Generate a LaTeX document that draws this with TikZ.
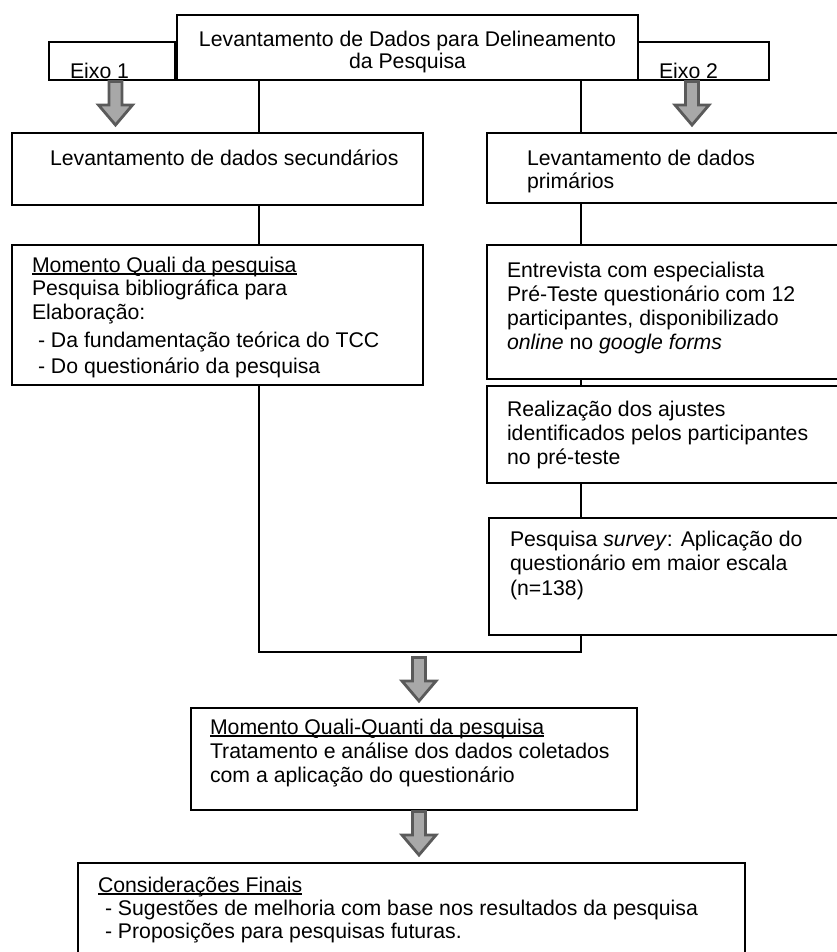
\documentclass[tikz,border=0pt]{standalone}
\usepackage{fontspec}
\setmainfont{Liberation Sans}
\definecolor{arrowedge}{HTML}{5A5A5A}
\definecolor{arrowfill}{HTML}{A8A8A8}
\newcommand\myul[1]{\setbox0\hbox{#1}\rlap{\rule[-2.6pt]{\wd0}{1.3pt}}\box0}
\begin{document}
\begin{tikzpicture}[x=1pt,y=-1pt,
 box/.style={draw=black,line width=1.6pt,inner sep=0pt,outer sep=0pt,anchor=north west,rectangle},
 txt/.style={inner sep=0pt,outer sep=0pt,anchor=base west,font=\fontsize{21.25}{23.5}\selectfont},
 ctxt/.style={txt,anchor=base},
 conn/.style={draw=black,line width=1.6pt},
 blockarrow/.style={draw=arrowedge,fill=arrowfill,line width=2.8pt,line join=miter},
 dnarrow/.pic={\path[blockarrow] (-6.5,1.5) -- (6.5,1.5) -- (6.5,25) -- (17,25) -- (0,45) -- (-17,25) -- (-6.5,25) -- cycle;}
]
\useasboundingbox (0,0) rectangle (837,952);
\clip (0,0) rectangle (837,952);

% boxes
\node[box,minimum width=461pt,minimum height=65pt] (top) at (177,15) {};
\node[box,minimum width=126pt,minimum height=38pt] (eixoA) at (49,42) {};
\node[box,minimum width=131pt,minimum height=38pt] (eixoB) at (638,42) {};
\node[box,minimum width=411pt,minimum height=72pt] (sec) at (12,133) {};
\node[box,minimum width=400pt,minimum height=70pt] (prim) at (487,133) {};
\node[box,minimum width=411pt,minimum height=140pt] (quali) at (12,245) {};
\node[box,minimum width=400pt,minimum height=134pt] (entr) at (487,245) {};
\node[box,minimum width=400pt,minimum height=97pt] (real) at (487,386) {};
\node[box,minimum width=400pt,minimum height=117pt] (surv) at (489,518) {};
\node[box,minimum width=446pt,minimum height=102pt] (qq) at (191,708) {};
\node[box,minimum width=667pt,minimum height=130pt] (fin) at (78,863) {};

% texts
\node[ctxt] (topA) at (407.5,47) {Levantamento de Dados para Delineamento};
\node[ctxt] (topB) at (407.5,69) {da Pesquisa};
\begin{scope}
\clip (eixoA.north west) rectangle (eixoA.south east);
\node[txt] (eixoAt) at (70,79) {Eixo 1};
\end{scope}
\begin{scope}
\clip (eixoB.north west) rectangle (eixoB.south east);
\node[txt] (eixoBt) at (659,79) {Eixo 2};
\end{scope}
\node[txt] (secA) at (50,165) {Levantamento de dados secundários};
\node[txt] (primA) at (527,165) {Levantamento de dados};
\node[txt] (primB) at (527,188) {primários};

\node[txt] (qualiA) at (32,272) {\myul{Momento Quali da pesquisa}};
\node[txt] (qualiB) at (32,295.5) {Pesquisa bibliográfica para};
\node[txt] (qualiC) at (32,319) {Elaboração:};
\node[txt] (qualiD) at (38,347) {- Da fundamentação teórica do TCC};
\node[txt] (qualiE) at (38,373) {- Do questionário da pesquisa};

\node[txt] (entrA) at (507,277) {Entrevista com especialista};
\node[txt] (entrB) at (507,301) {Pré-Teste questionário com 12};
\node[txt] (entrC) at (507,325) {participantes, disponibilizado};
\node[txt] (entrD) at (507,349) {\textit{online} no \textit{google forms}};

\node[txt] (realA) at (507,416) {Realização dos ajustes};
\node[txt] (realB) at (507,440) {identificados pelos participantes};
\node[txt] (realC) at (507,464) {no pré-teste};

\node[txt] (survA) at (510,546) {Pesquisa \textit{survey}: Aplicação do};
\node[txt] (survB) at (510,570) {questionário em maior escala};
\node[txt] (survC) at (510,595) {(n=138)};

\node[txt] (qqA) at (210,734) {\myul{Momento Quali-Quanti da pesquisa}};
\node[txt] (qqB) at (210,758) {Tratamento e análise dos dados coletados};
\node[txt] (qqC) at (210,782) {com a aplicação do questionário};

\node[txt] (finA) at (98,892) {\myul{Considerações Finais}};
\node[txt] (finB) at (105,915) {- Sugestões de melhoria com base nos resultados da pesquisa};
\node[txt] (finC) at (105,938) {- Proposições para pesquisas futuras.};

% connectors
\coordinate (L) at (259,0);
\coordinate (R) at (581,0);
\coordinate (join) at (0,652);
\draw[conn] (top.south -| L) -- (sec.north -| L);
\draw[conn] (top.south -| R) -- (prim.north -| R);
\draw[conn] (sec.south -| L) -- (quali.north -| L);
\draw[conn] (prim.south -| R) -- (entr.north -| R);
\draw[conn] (entr.south -| R) -- (real.north -| R);
\draw[conn] (real.south -| R) -- (surv.north -| R);
\draw[conn] (quali.south -| L) -- (join -| L) -- (join -| R) -- (surv.south -| R);

% block arrows
\pic at (115.5,80) {dnarrow};
\pic at (692,80) {dnarrow};
\pic at (419,656) {dnarrow};
\pic at (419,810) {dnarrow};
\end{tikzpicture}
\end{document}
